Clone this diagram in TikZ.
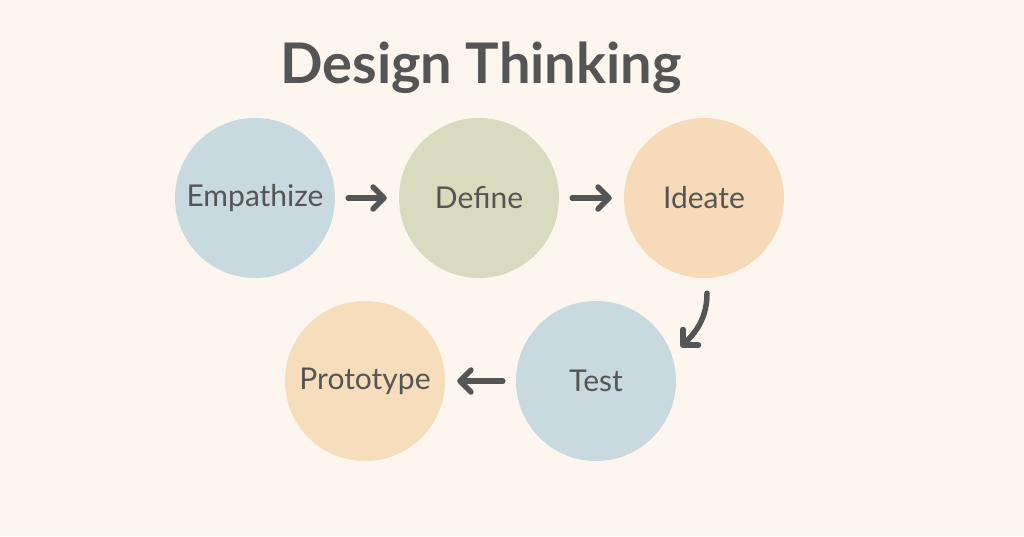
\documentclass[tikz,border=0pt]{standalone}
\usepackage{fontspec}
\setmainfont{Lato}
\usetikzlibrary{arrows.meta}
\definecolor{bg}{HTML}{FCF6EE}
\definecolor{ink}{HTML}{555555}
\definecolor{cblue}{HTML}{C9D9E0}
\definecolor{cgreen}{HTML}{D9DBBE}
\definecolor{corange}{HTML}{F6DAB9}
\definecolor{cpeach}{HTML}{F6DDBB}
\begin{document}
\begin{tikzpicture}[x=1pt,y=-1pt,
  stage/.style={circle,minimum size=160pt,inner sep=0pt,text=ink,font=\fontsize{30}{33}\selectfont},
  arr/.style={draw=ink,line width=5.5pt,line cap=round,-{Straight Barb[round,length=11pt,width=22pt]}}]
\fill[bg] (0,0) rectangle (1024,536);
\useasboundingbox (0,0) rectangle (1024,536);
\node[text=ink,font=\fontsize{56}{62}\selectfont\bfseries] (title) at (481,68) {Design Thinking};
\node[stage,fill=cblue] (emp) at (255,198) {Empathize};
\node[stage,fill=cgreen] (def) at (479,198) {Define};
\node[stage,fill=corange] (ide) at (704,198) {Ideate};
\node[stage,fill=cblue] (tst) at (596,381) {Test};
\node[stage,fill=cpeach] (pro) at (365,381) {Prototype};
\draw[arr,shorten <=13pt,shorten >=12pt] (emp) -- (def);
\draw[arr,shorten <=13pt,shorten >=12pt] (def) -- (ide);
\draw[arr,shorten <=13pt,shorten >=12pt] (tst) -- (pro);
\coordinate (c1) at ([xshift=3pt,yshift=-15pt]ide.south);
\coordinate (c2) at ([xshift=85pt,yshift=34pt]tst.center);
\draw[arr] (c1) to[out=-90,in=45] (c2);
\end{tikzpicture}
\end{document}
